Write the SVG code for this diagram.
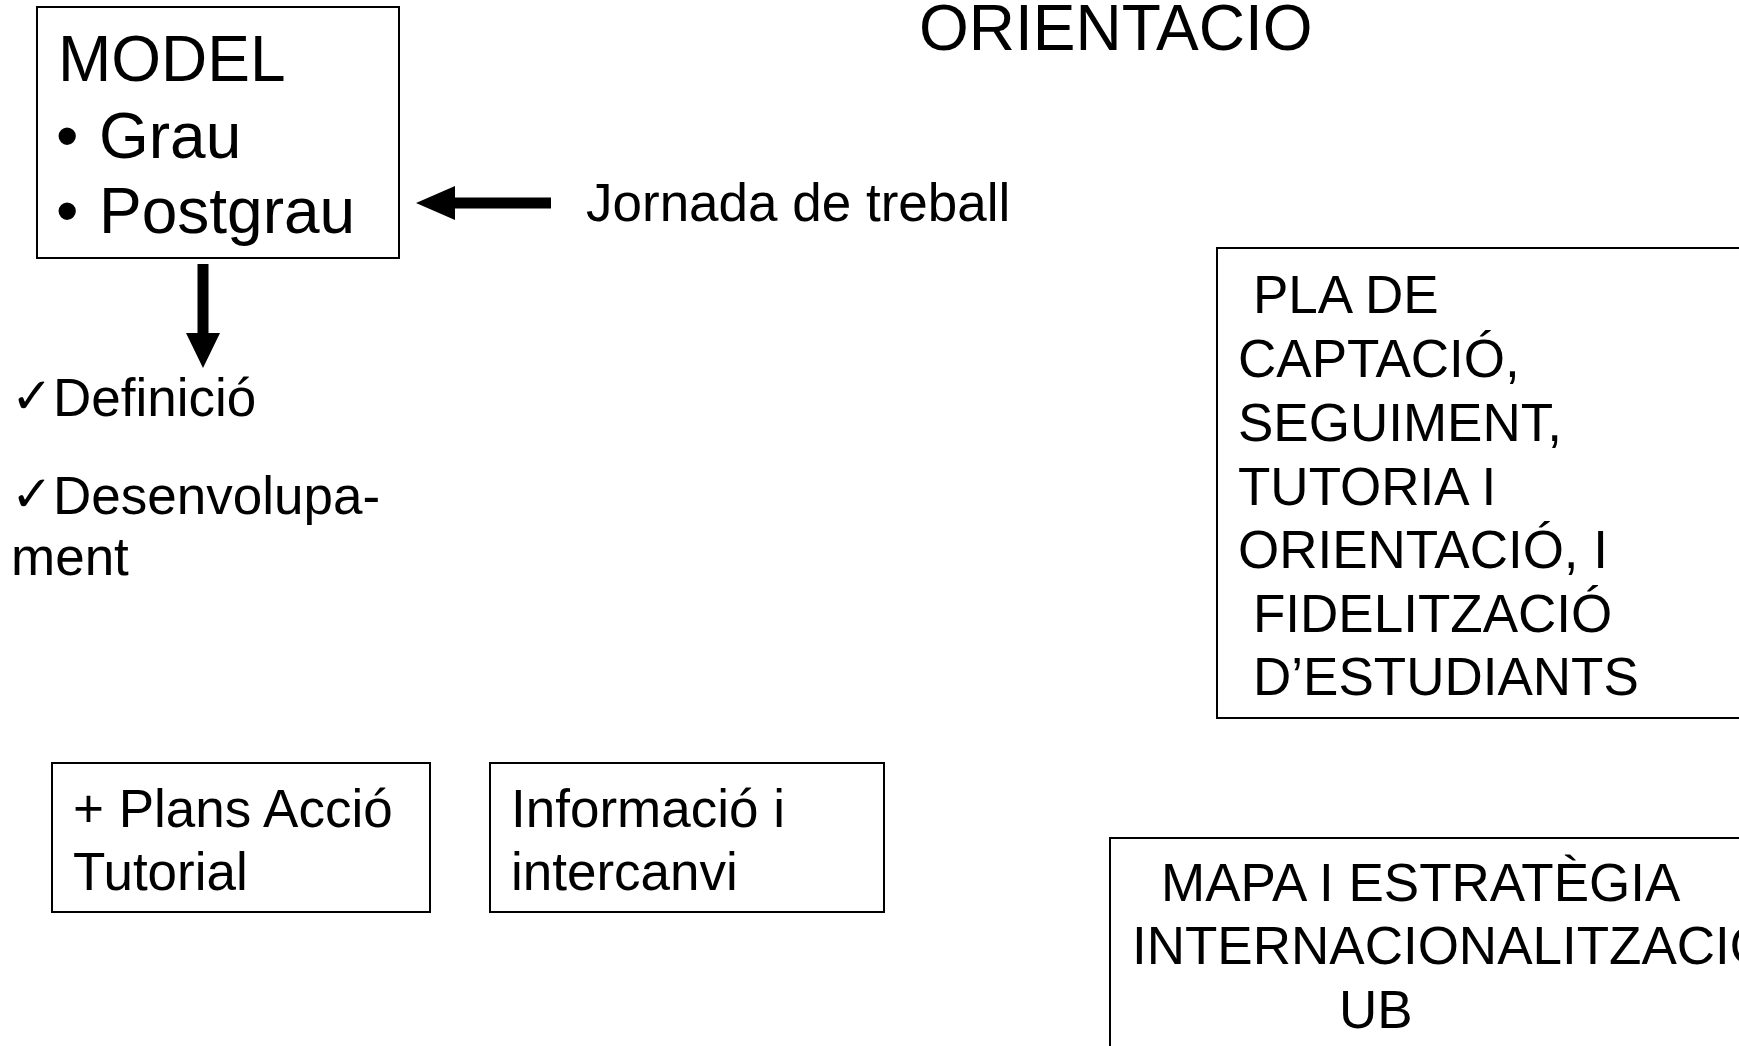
<svg xmlns="http://www.w3.org/2000/svg" width="1739" height="1046" viewBox="0 0 1739 1046">
<style>
text{font-family:"Liberation Sans",Arial,sans-serif;fill:#000}
.big{font-size:64px}
.t{font-size:53px}
.box{fill:#fff;stroke:#000;stroke-width:2}
.chk{font-family:"DejaVu Sans",sans-serif;font-size:50px}
</style>
<rect width="1739" height="1046" fill="#fff"/>
<g id="title"><text class="big" x="919" y="50">ORIENTACIO</text></g>
<g id="model">
<rect class="box" x="37" y="7" width="362" height="251"/>
<text class="big" x="58" y="81">MODEL</text>
<text class="big" x="56" y="158">•</text>
<text class="big" x="99" y="158">Grau</text>
<text class="big" x="56" y="233">•</text>
<text class="big" x="99" y="233">Postgrau</text>
</g>
<g id="jornada"><text class="t" x="586" y="221">Jornada de treball</text></g>
<g id="items">
<text class="chk" x="11" y="413">✓</text>
<text class="t" x="53" y="416">Definició</text>
<text class="chk" x="11" y="511">✓</text>
<text class="t" x="53" y="514">Desenvolupa-</text>
<text class="t" x="11" y="575">ment</text>
</g>
<g id="plans">
<rect class="box" x="52" y="763" width="378" height="149"/>
<text class="t" x="73" y="827">+ Plans Acció</text>
<text class="t" x="73" y="890">Tutorial</text>
</g>
<g id="informacio">
<rect class="box" x="490" y="763" width="394" height="149"/>
<text class="t" x="511" y="827">Informació i</text>
<text class="t" x="511" y="890">intercanvi</text>
</g>
<g id="pla">
<rect class="box" x="1217" y="248" width="540" height="470"/>
<text class="t" x="1253" y="313">PLA DE</text>
<text class="t" x="1238" y="377">CAPTACIÓ,</text>
<text class="t" x="1238" y="441">SEGUIMENT,</text>
<text class="t" x="1238" y="505">TUTORIA I</text>
<text class="t" x="1238" y="568">ORIENTACIÓ, I</text>
<text class="t" x="1253" y="632">FIDELITZACIÓ</text>
<text class="t" x="1253" y="695">D’ESTUDIANTS</text>
</g>
<g id="mapa">
<rect class="box" x="1110" y="838" width="660" height="240"/>
<text class="t" x="1161" y="901">MAPA I ESTRATÈGIA</text>
<text class="t" x="1132" y="964">INTERNACIONALITZACIÓ</text>
<text class="t" x="1339" y="1028">UB</text>
</g>
<g id="connectors" fill="#000">
<path d="M551 197.5H455V186L416 203L455 220V208.5H551Z"/>
<path d="M197.5 264V333H186L203 368L220 333H208.5V264Z"/>
</g>
</svg>
